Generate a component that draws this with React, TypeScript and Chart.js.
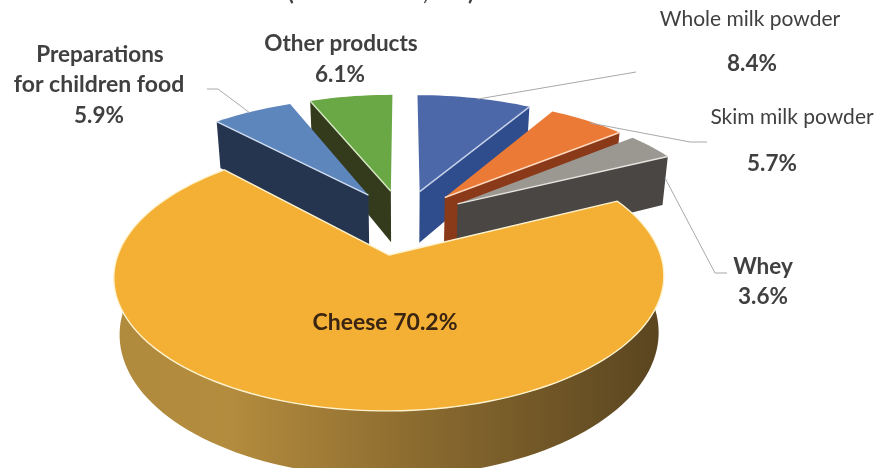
import React, { useEffect, useRef } from "react";
import { Chart, registerables } from "chart.js";

Chart.register(...registerables);

const categories = ["Whole milk powder", "Skim milk powder", "Whey", "Cheese", "Preparations for children food", "Other products"];
const shares = [8.4, 5.7, 3.6, 70.2, 5.9, 6.1];
const explode = [51, 51, 51, 57, 51, 51];
const topColors = ["#4c68a8", "#ea7a35", "#9b9892", "#f3b034", "#5d86bd", "#69a844"];
const wallColors = ["#2f4c8c", "#8a3a18", "#4a4644", "#8f6e30", "#26354f", "#343a1c"];
const edgeColors = ["#c6d2ea", "#ffd9bf", "#e6e4df", "#fff3cf", "#cfdcf0", "#d5e8c4"];
const drawOrder = [5, 4, 0, 1, 2, 3];

const BASE_RADIUS = 200;

// Perspective of the tilted disc: X runs right, Y runs away from the viewer, in disc radii.
const view = { cx: 403, horizon: -551, depth: 771, tilt: 0.155, spread: 259.6, wallHeight: 53, wallInset: 0.98 };

function project(X: number, Y: number) {
  const w = 1 + view.tilt * Y;
  return { x: view.cx + (view.spread * X) / w, y: view.horizon + view.depth / w, w };
}

function lower(p: { x: number; y: number; w: number }) {
  return { x: view.cx + (p.x - view.cx) * view.wallInset, y: p.y + view.wallHeight / p.w };
}

// Outline of one slice in disc coordinates, read from the arc element that Chart.js laid out.
function outline(arc: any) {
  const mid = (arc.startAngle + arc.endAngle) / 2;
  const off = arc.options.offset / arc.outerRadius;
  const ox = Math.cos(mid) * off;
  const oy = -Math.sin(mid) * off;
  const steps = Math.max(4, Math.ceil(((arc.endAngle - arc.startAngle) * 180) / Math.PI / 2));
  const pts = [{ X: ox, Y: oy }];
  for (let i = 0; i <= steps; i++) {
    const a = arc.startAngle + ((arc.endAngle - arc.startAngle) * i) / steps;
    pts.push({ X: ox + Math.cos(a), Y: oy - Math.sin(a) });
  }
  return pts;
}

function paintSlice(ctx: CanvasRenderingContext2D, arc: any, i: number) {
  const pts = outline(arc);
  const screen = pts.map((p) => project(p.X, p.Y));
  const isCheese = categories[i] === "Cheese";
  let wallFill: string | CanvasGradient = wallColors[i];
  if (isCheese) {
    const g = ctx.createLinearGradient(120, 0, 660, 0);
    g.addColorStop(0, "#b08a3d");
    g.addColorStop(0.2, "#b48c3e");
    g.addColorStop(0.55, "#8b6b2f");
    g.addColorStop(1, "#5a4520");
    wallFill = g;
  }

  // The perimeter runs clockwise seen from above, so its outward normal is (-dY, dX);
  // a wall faces the viewer where that normal points towards -Y.
  const runs: number[][] = [];
  let run: number[] | null = null;
  for (let k = 0; k < pts.length; k++) {
    const a = pts[k];
    const b = pts[(k + 1) % pts.length];
    if (b.X - a.X < 0) {
      if (!run) {
        run = [k];
        runs.push(run);
      }
      run.push((k + 1) % pts.length);
    } else {
      run = null;
    }
  }

  // Each connected stretch of wall is filled as one polygon so no seams show.
  ctx.fillStyle = wallFill;
  for (const r of runs) {
    ctx.beginPath();
    r.forEach((k, n) => (n ? ctx.lineTo(screen[k].x, screen[k].y) : ctx.moveTo(screen[k].x, screen[k].y)));
    for (let n = r.length - 1; n >= 0; n--) {
      const l = lower(screen[r[n]]);
      ctx.lineTo(l.x, l.y);
    }
    ctx.closePath();
    ctx.fill();
  }

  ctx.beginPath();
  screen.forEach((p, k) => (k ? ctx.lineTo(p.x, p.y) : ctx.moveTo(p.x, p.y)));
  ctx.closePath();
  ctx.fillStyle = topColors[i];
  ctx.fill();

  ctx.strokeStyle = edgeColors[i];
  ctx.lineWidth = 1.4;
  ctx.lineJoin = "round";
  if (isCheese) {
    ctx.stroke();
  } else {
    for (const r of runs) {
      ctx.beginPath();
      r.forEach((k, n) => (n ? ctx.lineTo(screen[k].x, screen[k].y) : ctx.moveTo(screen[k].x, screen[k].y)));
      ctx.stroke();
    }
  }
}

const leaders = [
  [[478, 99], [636, 72]],
  [[590, 123], [690, 142], [707, 142]],
  [[665, 178], [715, 273], [727, 273]],
  [[207, 89], [218, 89], [250, 113]],
];

const LABEL_FONT = "Lato, 'Noto Sans', sans-serif";
const labels = [
  { text: "(Value USD 2,497)", x: 381, y: -7, weight: 700, size: 23, color: "#404040" },
  { text: "Whole milk powder", x: 750, y: 19, weight: 400, size: 21, color: "#404040" },
  { text: "8.4%", x: 752, y: 64, weight: 700, size: 22.5, color: "#404040" },
  { text: "Skim milk powder", x: 792, y: 117, weight: 400, size: 21, color: "#404040" },
  { text: "5.7%", x: 772, y: 164, weight: 700, size: 22.5, color: "#404040" },
  { text: "Whey", x: 763, y: 267, weight: 700, size: 22.5, color: "#404040" },
  { text: "3.6%", x: 763, y: 297, weight: 700, size: 22.5, color: "#404040" },
  { text: "Other products", x: 341, y: 44, weight: 700, size: 22.5, color: "#404040" },
  { text: "6.1%", x: 340, y: 75, weight: 700, size: 22.5, color: "#404040" },
  { text: "Preparations", x: 100, y: 55, weight: 700, size: 22.5, color: "#404040" },
  { text: "for children food", x: 99, y: 85, weight: 700, size: 23, color: "#404040" },
  { text: "5.9%", x: 99, y: 116, weight: 700, size: 22.5, color: "#404040" },
  { text: "Cheese 70.2%", x: 385, y: 323, weight: 700, size: 23, color: "#3a2412" },
];

const tiltedPie = {
  id: "tiltedPie",
  beforeDatasetDraw(chart: any) {
    const ctx: CanvasRenderingContext2D = chart.ctx;
    const arcs = chart.getDatasetMeta(0).data;
    ctx.save();
    for (const i of drawOrder) paintSlice(ctx, arcs[i], i);
    ctx.restore();
    return false;
  },
  afterDatasetsDraw(chart: any) {
    const ctx: CanvasRenderingContext2D = chart.ctx;
    ctx.save();
    ctx.strokeStyle = "#a8a8a8";
    ctx.lineWidth = 1;
    for (const line of leaders) {
      ctx.beginPath();
      line.forEach(([x, y], k) => (k ? ctx.lineTo(x, y) : ctx.moveTo(x, y)));
      ctx.stroke();
    }
    ctx.textAlign = "center";
    ctx.textBaseline = "middle";
    for (const l of labels) {
      ctx.font = `${l.weight} ${l.size}px ${LABEL_FONT}`;
      ctx.fillStyle = l.color;
      ctx.fillText(l.text, l.x, l.y);
    }
    ctx.restore();
  },
};

export default function App() {
  const ref = useRef<HTMLCanvasElement>(null);
  useEffect(() => {
    const chart = new Chart(ref.current!, {
      type: "pie",
      data: {
        labels: categories,
        datasets: [{ data: shares, backgroundColor: topColors, offset: explode, borderWidth: 0 }],
      },
      options: {
        responsive: false,
        animation: false,
        devicePixelRatio: 1,
        radius: BASE_RADIUS,
        plugins: { legend: { display: false }, tooltip: { enabled: false } },
      },
      plugins: [tiltedPie],
    } as any);
    return () => chart.destroy();
  }, []);
  return (
    <div style={{ position: "fixed", left: 0, top: 0, width: 879, height: 468, background: "#fff" }}>
      <canvas ref={ref} width={879} height={468} style={{ display: "block" }} />
    </div>
  );
}
